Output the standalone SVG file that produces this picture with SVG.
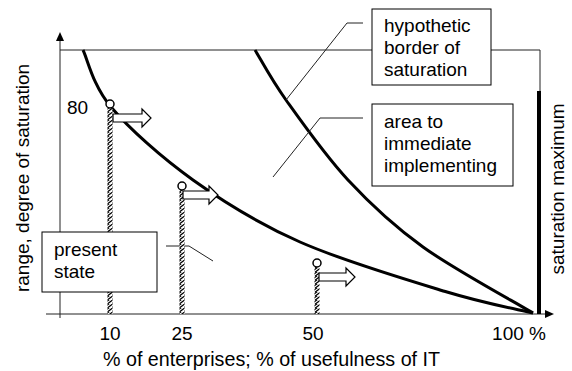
<svg xmlns="http://www.w3.org/2000/svg" width="572" height="371" viewBox="0 0 572 371">
  <style>
    text { font-family: "Liberation Sans", Arial, sans-serif; font-size: 19px; fill: #000; }
    .thin { fill: none; stroke: #222; stroke-width: 1; }
    .curve { fill: none; stroke: #000; stroke-width: 3; }
    .box { fill: #fff; stroke: #000; stroke-width: 1; }
    .block { fill: #fff; stroke: #000; stroke-width: 1.2; stroke-linejoin: miter; }
    .dot { fill: #fff; stroke: #000; stroke-width: 1.5; }
    .bar { fill: url(#hatch); }
  </style>
  <defs>
    <pattern id="hatch" patternUnits="userSpaceOnUse" width="8" height="4">
      <rect width="8" height="4" fill="#fff"/>
      <path d="M-2,5 L6,-1 M2,5 L10,-1 M-6,5 L2,-1" stroke="#000" stroke-width="1.3"/>
    </pattern>
  </defs>

  <!-- axes and frame -->
  <g id="axes">
    <line class="thin" x1="60" y1="318" x2="60" y2="40"/>
    <path d="M60,32 L56,41 L64,41 Z" fill="#000"/>
    <line class="thin" x1="46" y1="314" x2="546" y2="314"/>
    <path d="M554,314 L545,310 L545,318 Z" fill="#000"/>
    <polyline class="thin" points="60,50 540,50 540,91"/>
  </g>

  <!-- saturation maximum bar -->
  <g id="saturation-maximum">
    <rect x="537" y="91" width="4" height="223" fill="#000"/>
    <text transform="translate(564,189) rotate(-90)" text-anchor="middle">saturation maximum</text>
  </g>

  <!-- curves -->
  <g id="curves">
    <path class="curve" d="M83,50 C87.7,59.5 92.7,85.3 111,107 C129.3,128.7 161.5,157.5 193,180 C224.5,202.5 257.7,223.3 300,242 C342.3,260.7 408.2,280.2 447,292 C485.8,303.8 518.7,309.5 533,313"/>
    <path class="curve" d="M255,50 C260.2,58.3 270.5,78.3 286,100 C301.5,121.7 325.2,155.5 348,180 C370.8,204.5 392.2,224.8 423,247 C453.8,269.2 514.7,302 533,313"/>
  </g>

  <!-- connectors: leader lines from the labels -->
  <g id="connectors">
    <polyline class="thin" points="363,23 347,23 286,100"/>
    <polyline class="thin" points="363,118 320,118 273,177"/>
    <polyline class="thin" points="166,246 189,246 213,261"/>
  </g>

  <!-- markers at 10, 25, 50 -->
  <g id="marker-10">
    <rect class="bar" x="107.5" y="108" width="5" height="206"/>
    <circle class="dot" cx="110" cy="104" r="4"/>
    <path class="block" d="M113,114 H142 V109 L151,118 L142,127 V122 H113 Z"/>
    <text x="67" y="114">80</text>
  </g>
  <g id="marker-25">
    <rect class="bar" x="179.5" y="190" width="5" height="124"/>
    <circle class="dot" cx="182" cy="186" r="4"/>
    <path class="block" d="M183,191 H209 V186 L218,195 L209,204 V199 H183 Z"/>
  </g>
  <g id="marker-50">
    <rect class="bar" x="314.5" y="267" width="5" height="47"/>
    <circle class="dot" cx="317" cy="263" r="4"/>
    <path class="block" d="M319,273 H346 V268 L355,277 L346,286 V281 H319 Z"/>
  </g>

  <!-- label boxes -->
  <g id="box-hypothetic">
    <rect class="box" x="372" y="9" width="119" height="76"/>
    <text x="384" y="32">hypothetic</text>
    <text x="384" y="54">border of</text>
    <text x="384" y="76">saturation</text>
  </g>
  <g id="box-area">
    <rect class="box" x="372" y="104" width="141" height="82"/>
    <text x="384" y="128">area to</text>
    <text x="384" y="150">immediate</text>
    <text x="384" y="172">implementing</text>
  </g>
  <g id="box-present">
    <rect class="box" x="42" y="232" width="115" height="60"/>
    <text x="54" y="256">present</text>
    <text x="54" y="278">state</text>
  </g>

  <!-- axis labels -->
  <g id="labels">
    <text x="110" y="340" text-anchor="middle">10</text>
    <text x="182" y="340" text-anchor="middle">25</text>
    <text x="313" y="340" text-anchor="middle">50</text>
    <text x="519" y="340" text-anchor="middle">100 %</text>
    <text x="103" y="366" style="font-size:19.7px">% of enterprises; % of usefulness of IT</text>
    <text transform="translate(29,178) rotate(-90)" text-anchor="middle">range, degree of saturation</text>
  </g>
</svg>
